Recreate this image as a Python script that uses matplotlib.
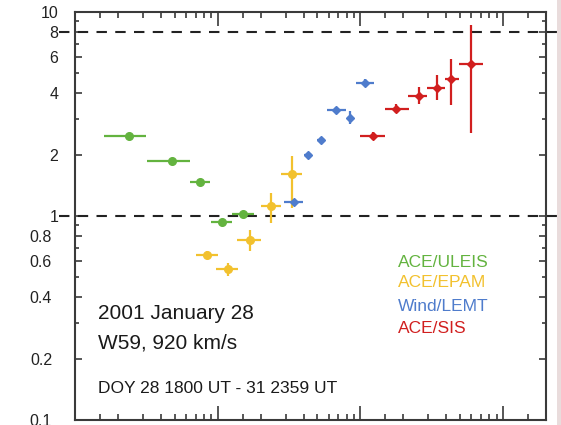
import matplotlib
matplotlib.use("Agg")
import matplotlib.pyplot as plt
from matplotlib.patches import Rectangle

plt.rcParams['font.family'] = ['Liberation Sans', 'DejaVu Sans']

# Energy (MeV/nucleon): centre, bin low edge, bin high edge
# Ratio: value, lower error bound, upper error bound
uleis_e = [0.238, 0.475, 0.757, 1.08, 1.51]
uleis_elo = [0.159, 0.318, 0.635, 0.90, 1.27]
uleis_ehi = [0.313, 0.635, 0.889, 1.27, 1.80]
uleis_r = [2.47, 1.86, 1.47, 0.935, 1.02]
uleis_rlo = [2.42, 1.82, 1.44, 0.91, 0.99]
uleis_rhi = [2.52, 1.90, 1.50, 0.96, 1.05]

epam_e = [0.847, 1.19, 1.69, 2.37, 3.32]
epam_elo = [0.71, 0.98, 1.37, 2.00, 2.78]
epam_ehi = [1.00, 1.39, 2.02, 2.78, 3.90]
epam_r = [0.643, 0.549, 0.762, 1.12, 1.61]
epam_rlo = [0.62, 0.51, 0.67, 0.92, 1.09]
epam_rhi = [0.67, 0.59, 0.85, 1.30, 1.97]

lemt_e = [3.43, 4.30, 5.30, 6.73, 8.43, 10.7]
lemt_elo = [2.92, 4.00, 4.95, 5.83, 8.00, 9.30]
lemt_ehi = [3.96, 4.60, 5.65, 7.90, 8.90, 12.4]
lemt_r = [1.17, 1.99, 2.36, 3.32, 3.03, 4.50]
lemt_rlo = [1.14, 1.94, 2.29, 3.22, 2.83, 4.33]
lemt_rhi = [1.20, 2.04, 2.43, 3.42, 3.28, 4.67]

sis_e = [12.2, 17.9, 25.6, 34.7, 43.5, 59.8]
sis_elo = [9.9, 14.8, 21.5, 29.5, 39.5, 49.5]
sis_ehi = [14.8, 21.8, 29.5, 39.5, 49.5, 72.6]
sis_r = [2.47, 3.36, 3.89, 4.26, 4.71, 5.58]
sis_rlo = [2.37, 3.20, 3.55, 3.70, 3.51, 2.56]
sis_rhi = [2.57, 3.55, 4.30, 4.90, 5.90, 8.66]

y_ticks = [0.1, 0.2, 0.4, 0.6, 0.8, 1, 2, 4, 6, 8, 10]
y_ticklabels = ['0.1', '0.2', '0.4', '0.6', '0.8', '1', '2', '4', '6', '8', '10']
ref_levels = [1, 8]

series = [
    ("ACE/ULEIS", '#63b33f', 'o', 5.5, uleis_e, uleis_elo, uleis_ehi, uleis_r, uleis_rlo, uleis_rhi),
    ("ACE/EPAM", '#f2c12e', 'o', 5.5, epam_e, epam_elo, epam_ehi, epam_r, epam_rlo, epam_rhi),
    ("Wind/LEMT", '#4f7ccc', 'D', 4.5, lemt_e, lemt_elo, lemt_ehi, lemt_r, lemt_rlo, lemt_rhi),
    ("ACE/SIS", '#d11f1f', 'D', 4.5, sis_e, sis_elo, sis_ehi, sis_r, sis_rlo, sis_rhi),
]

fig = plt.figure(figsize=(5.61, 4.25), dpi=100)
ax = fig.add_axes([75 / 561, 5 / 425, 471 / 561, 408 / 425])
ax.set_xscale('log')
ax.set_yscale('log')
ax.set_xlim(0.1, 200)
ax.set_ylim(0.1, 10)

for name, col, mk, ms, e, elo, ehi, r, rlo, rhi in series:
    xerr = [[a - b for a, b in zip(e, elo)], [b - a for a, b in zip(e, ehi)]]
    yerr = [[a - b for a, b in zip(r, rlo)], [b - a for a, b in zip(r, rhi)]]
    ax.errorbar(e, r, xerr=xerr, yerr=yerr, fmt=mk, color=col, ms=ms,
                elinewidth=1.6, capsize=0, zorder=3)

for lvl in ref_levels:
    ax.plot([-0.035, 1.04], [lvl, lvl], transform=ax.get_yaxis_transform(),
            color='#222222', lw=1.5, ls=(0, (5, 4)), clip_on=False, zorder=2)

# axis styling
for sp in ax.spines.values():
    sp.set_color('#3a3a3a')
    sp.set_linewidth(1.5)

ax.set_yticks(y_ticks)
ax.set_yticklabels(y_ticklabels, fontsize=11.5, color='#222222')
ax.set_yticks([0.3, 0.5, 0.7, 0.9, 3, 5, 7, 9], minor=True)
ax.yaxis.set_minor_formatter(matplotlib.ticker.NullFormatter())
for t, v in zip(ax.yaxis.get_major_ticks(), y_ticks):
    t.set_pad(12 if v >= 1 else 16.5)

ax.set_xticks([1, 10, 100])
ax.set_xticklabels([])
minor_x = [m * d for d in (0.1, 1, 10, 100) for m in (1.5, 2, 3, 4, 5, 6, 7, 8, 9)
           if 0.1 < m * d < 200]
ax.set_xticks(minor_x, minor=True)
ax.xaxis.set_minor_formatter(matplotlib.ticker.NullFormatter())

ax.tick_params(which='both', direction='in', top=True, right=True,
               color='#3a3a3a', width=1.2)
ax.tick_params(axis='x', which='major', length=10)
ax.tick_params(axis='x', which='minor', length=4)
ax.tick_params(axis='y', which='major', length=5)
ax.tick_params(axis='y', which='minor', length=3)

# annotations
ax.text(0.049, 0.262, "2001 January 28", transform=ax.transAxes,
        fontsize=15, color='#1a1a1a', va='center', ha='left')
ax.text(0.049, 0.189, "W59, 920 km/s", transform=ax.transAxes,
        fontsize=15, color='#1a1a1a', va='center', ha='left')
ax.text(0.049, 0.078, "DOY 28 1800 UT - 31 2359 UT", transform=ax.transAxes,
        fontsize=12.5, color='#1a1a1a', va='center', ha='left')

legend_y = [0.387, 0.336, 0.279, 0.225]
for (name, col, *_), yy in zip(series, legend_y):
    ax.text(0.686, yy, name, transform=ax.transAxes, fontsize=12.5,
            color=col, va='center', ha='left')

fig.patches.append(Rectangle((557 / 561, 0), 4 / 561, 1, transform=fig.transFigure,
                             facecolor='#e9dcdc', edgecolor='none', zorder=0))

fig.savefig('out.png', dpi=100)
